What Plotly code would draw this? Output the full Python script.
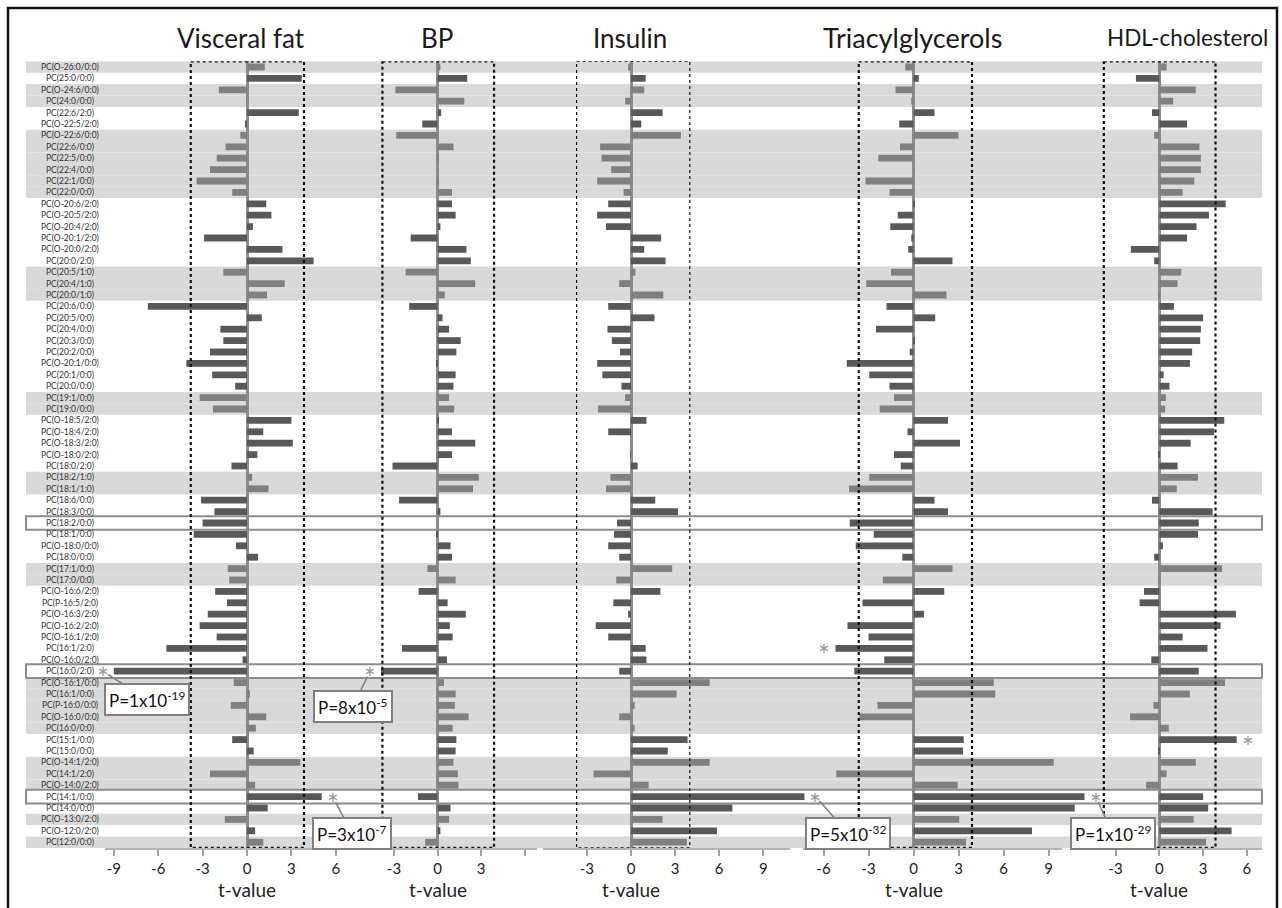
import plotly.graph_objects as go

W, H = 1282, 908

lipids = [
    "PC(O-26:0/0:0)", "PC(25:0/0:0)", "PC(O-24:6/0:0)", "PC(24:0/0:0)", "PC(22:6/2:0)",
    "PC(O-22:5/2:0)", "PC(O-22:6/0:0)", "PC(22:6/0:0)", "PC(22:5/0:0)", "PC(22:4/0:0)",
    "PC(22:1/0:0)", "PC(22:0/0:0)", "PC(O-20:6/2:0)", "PC(O-20:5/2:0)", "PC(O-20:4/2:0)",
    "PC(O-20:1/2:0)", "PC(O-20:0/2:0)", "PC(20:0/2:0)", "PC(20:5/1:0)", "PC(20:4/1:0)",
    "PC(20:0/1:0)", "PC(20:6/0:0)", "PC(20:5/0:0)", "PC(20:4/0:0)", "PC(20:3/0:0)",
    "PC(20:2/0:0)", "PC(O-20:1/0:0)", "PC(20:1/0:0)", "PC(20:0/0:0)", "PC(19:1/0:0)",
    "PC(19:0/0:0)", "PC(O-18:5/2:0)", "PC(O-18:4/2:0)", "PC(O-18:3/2:0)", "PC(O-18:0/2:0)",
    "PC(18:0/2:0)", "PC(18:2/1:0)", "PC(18:1/1:0)", "PC(18:6/0:0)", "PC(18:3/0:0)",
    "PC(18:2/0:0)", "PC(18:1/0:0)", "PC(O-18:0/0:0)", "PC(18:0/0:0)", "PC(17:1/0:0)",
    "PC(17:0/0:0)", "PC(O-16:6/2:0)", "PC(P-16:5/2:0)", "PC(O-16:3/2:0)", "PC(O-16:2/2:0)",
    "PC(O-16:1/2:0)", "PC(16:1/2:0)", "PC(O-16:0/2:0)", "PC(16:0/2:0)", "PC(O-16:1/0:0)",
    "PC(16:1/0:0)", "PC(P-16:0/0:0)", "PC(O-16:0/0:0)", "PC(16:0/0:0)", "PC(15:1/0:0)",
    "PC(15:0/0:0)", "PC(O-14:1/2:0)", "PC(14:1/2:0)", "PC(O-14:0/2:0)", "PC(14:1/0:0)",
    "PC(14:0/0:0)", "PC(O-13:0/2:0)", "PC(O-12:0/2:0)", "PC(12:0/0:0)",
]

visceral_fat = [
    1.2, 3.7, -1.9, -0.05, 3.5, -0.1, -0.45, -1.45, -2.05, -2.5,
    -3.4, -1.0, 1.3, 1.65, 0.4, -2.9, 2.4, 4.5, -1.6, 2.55,
    1.35, -6.7, 1.0, -1.8, -1.6, -2.5, -4.1, -2.35, -0.8, -3.2,
    -2.3, 3.0, 1.1, 3.1, 0.7, -1.05, 0.35, 1.45, -3.1, -2.2,
    -3.0, -3.6, -0.75, 0.75, -1.3, -1.2, -2.15, -1.35, -2.65, -3.2,
    -2.05, -5.45, -0.3, -9.0, -0.9, 0.2, -1.1, 1.3, 0.6, -1.0,
    0.45, 3.6, -2.5, 0.55, 5.05, 1.4, -1.5, 0.55, 1.1,
]

bp = [
    0.2, 2.05, -2.9, 1.85, 0.25, -1.05, -2.85, 1.1, 0.1, 0.0,
    0.1, 1.0, 1.0, 1.25, 0.2, -1.85, 2.0, 2.3, -2.2, 2.6,
    0.5, -1.95, 0.35, 0.8, 1.6, 1.3, -0.1, 1.25, 1.1, 0.8,
    1.15, 0.1, 1.0, 2.6, 1.0, -3.1, 2.85, 2.45, -2.65, 0.2,
    0.0, -0.05, 0.9, 1.0, -0.7, 1.25, -1.3, 0.7, 1.95, 0.85,
    1.05, -2.45, 0.65, -3.9, 0.45, 1.25, 1.2, 2.15, 1.05, 1.3,
    1.25, 1.1, 1.4, 1.45, -1.35, 0.9, 0.8, 0.2, -0.85,
]

insulin = [
    -0.2, 1.0, 0.9, -0.4, 2.15, 0.7, 3.4, -2.1, -2.0, -1.35,
    -2.3, -0.5, -1.55, -2.3, -1.7, 2.05, 0.9, 2.35, 0.3, -0.8,
    2.2, -1.55, 1.6, -1.6, -1.3, -0.75, -2.3, -1.95, -0.65, -0.4,
    -2.25, 1.05, -1.55, 0.0, -0.03, 0.45, -1.4, -1.7, 1.65, 3.2,
    -0.95, -1.15, -1.55, -0.8, 2.8, -1.0, 2.0, -1.2, -0.2, -2.4,
    -1.55, 1.0, 1.05, -0.8, 5.35, 3.1, 0.25, -0.8, 0.25, 3.85,
    2.5, 5.35, -2.55, 1.2, 11.8, 6.9, 2.15, 5.85, 3.8,
]

triacylglycerols = [
    -0.55, 0.35, -1.2, -0.15, 1.4, -0.95, 3.0, -0.9, -2.35, 0.0,
    -3.2, -1.6, 0.05, -1.05, -1.55, -0.15, -0.35, 2.6, -1.5, -3.15,
    2.2, -1.8, 1.45, -2.5, 0.1, -0.25, -4.45, -2.95, -1.6, -1.3,
    -2.25, 2.3, -0.4, 3.1, -1.3, -0.85, -2.95, -4.3, 1.4, 2.3,
    -4.25, -2.65, -3.85, -0.75, 2.6, -2.05, 2.05, -3.4, 0.7, -4.4,
    -3.0, -5.2, -1.95, -3.95, 5.35, 5.45, -2.4, -3.6, 0.0, 3.35,
    3.3, 9.35, -5.15, 2.95, 11.4, 10.75, 3.05, 7.9, 3.5,
]

hdl_cholesterol = [
    0.5, -1.6, 2.5, 0.95, -0.5, 1.9, -0.35, 2.75, 2.85, 2.85,
    2.4, 1.6, 4.55, 3.4, 2.55, 1.9, -1.95, -0.35, 1.5, 1.25,
    -0.05, 1.0, 3.0, 2.85, 2.8, 2.25, 2.1, 0.3, 0.7, 0.45,
    0.4, 4.45, 3.75, 2.15, -0.05, 1.25, 2.65, 1.2, -0.5, 3.65,
    2.7, 2.65, 0.25, -0.35, 4.3, -0.05, -1.05, -1.35, 5.25, 4.2,
    1.6, 3.3, -0.55, 2.7, 4.5, 2.1, -0.4, -2.0, 0.65, 5.3,
    -0.05, 2.5, 0.5, -0.9, 3.0, 3.35, 2.35, 4.95, 3.2,
]

panel_titles = ["Visceral fat", "BP", "Insulin", "Triacylglycerols", "HDL-cholesterol"]
panel_values = [visceral_fat, bp, insulin, triacylglycerols, hdl_cholesterol]

# rows (1-based) lying on a grey band
shaded_rows = [(1, 1), (3, 4), (7, 12), (19, 21), (30, 31), (37, 38),
               (45, 46), (55, 59), (62, 64), (67, 67), (69, 69)]
highlight_rows = ["PC(18:2/0:0)", "PC(16:0/2:0)", "PC(14:1/0:0)"]

threshold_lo = [-3.8, -3.8, -3.7, -3.65, -3.8]
threshold_hi = [3.85, 3.9, 4.0, 3.9, 3.85]

tick_values = [[-9, -6, -3, 0, 3, 6], [-3, 0, 3], [-3, 0, 3, 6, 9],
               [-6, -3, 0, 3, 6, 9], [-3, 0, 3, 6]]
tick_labels = [["-9", "-6", "-3", "0", "3", "6"], ["-3", "0", "3"],
               ["-3", "0", "3", "6", "9"], ["-6", "-3", "0", "3", "6", "9"],
               ["-3", "0", "3", "6"]]
unlabelled_ticks = [[], [6], [-6], [], []]

# significant hits: (panel index, lipid, P-value label or None)
significant = [
    (0, "PC(16:0/2:0)", "P=1x10<sup>-19</sup>"),
    (1, "PC(16:0/2:0)", "P=8x10<sup>-5</sup>"),
    (0, "PC(14:1/0:0)", "P=3x10<sup>-7</sup>"),
    (2, "PC(14:1/0:0)", "P=5x10<sup>-32</sup>"),
    (3, "PC(16:1/2:0)", None),
    (3, "PC(14:1/0:0)", "P=1x10<sup>-29</sup>"),
    (4, "PC(15:1/0:0)", None),
]

# ---------------- geometry / style ----------------
FONT = "Lato, 'Open Sans', 'DejaVu Sans', sans-serif"
zero_px = [247, 437.5, 631, 913.5, 1159.3]
px_per_unit = [14.8, 14.5, 14.7, 15.0, 14.6]
bar_dom = [(80, 362), (362, 540), (540, 830), (800, 1100), (1075, 1266)]
tick_dom = [(105, 347), (380, 537), (543, 790), (803, 1062), (1088, 1262)]
title_px = [241, 437, 630, 912, 1187]
title_size = [26, 26, 26, 27, 22.5]
y_top_px, row_h = 61.3, 11.4
n = len(lipids)
y_bot_px = y_top_px + n * row_h
band_left, band_right = 26, 1262
# P-box offsets (pixels, from the asterisk)
box_offsets = {(0, "PC(16:0/2:0)"): (44, 28), (1, "PC(16:0/2:0)"): (-17, 35),
               (0, "PC(14:1/0:0)"): (19, 37), (2, "PC(14:1/0:0)"): (33, 37),
               (3, "PC(14:1/0:0)"): (17, 37)}

shaded = set()
for a, b in shaded_rows:
    for r in range(a, b + 1):
        shaded.add(r - 1)

def px_range(k, dom):
    z, s = zero_px[k], px_per_unit[k]
    return [(dom[0] - z) / s, (dom[1] - z) / s]

fig = go.Figure()
layout = dict(
    width=W, height=H, margin=dict(l=0, r=0, t=0, b=0),
    paper_bgcolor="white", plot_bgcolor="rgba(0,0,0,0)",
    showlegend=False, barmode="overlay",
    font=dict(family=FONT, color="#222"),
)
layout["yaxis"] = dict(
    type="category", categoryorder="array", categoryarray=lipids,
    range=[n - 0.5, -0.5], domain=[1 - y_bot_px / H, 1 - y_top_px / H],
    showticklabels=False, showgrid=False, zeroline=False, showline=False,
    ticks="", anchor="x",
)

for k, vals in enumerate(panel_values):
    bx = "x" if k == 0 else f"x{k + 1}"
    tx = f"x{k + 6}"
    colors = ["#808080" if i in shaded else "#595959" for i in range(n)]
    fig.add_trace(go.Bar(
        x=vals, y=lipids, orientation="h", xaxis=bx, yaxis="y",
        marker=dict(color=colors, line=dict(width=0)), width=0.6,
        hoverinfo="x+y",
    ))
    layout["xaxis" if k == 0 else f"xaxis{k + 1}"] = dict(
        domain=[bar_dom[k][0] / W, bar_dom[k][1] / W], range=px_range(k, bar_dom[k]),
        anchor="y", showticklabels=False, ticks="", showgrid=False, showline=False,
        zeroline=True, zerolinecolor="#8c8c8c", zerolinewidth=2.5,
    )
    fig.add_trace(go.Scatter(
        x=[0], y=[lipids[0]], xaxis=tx, yaxis="y", mode="markers",
        marker=dict(opacity=0), hoverinfo="skip",
    ))
    ax_def = dict(
        domain=[tick_dom[k][0] / W, tick_dom[k][1] / W], range=px_range(k, tick_dom[k]),
        anchor="y", side="bottom", showgrid=False, zeroline=False,
        showline=True, linecolor="#b3b3b3", linewidth=2,
        ticks="outside", ticklen=6, tickwidth=1.5, tickcolor="#a0a0a0",
        tickmode="array", tickvals=tick_values[k], ticktext=tick_labels[k],
        tickfont=dict(size=15, family=FONT, color="#222"),
    )
    if unlabelled_ticks[k]:
        ax_def["minor"] = dict(tickmode="array", tickvals=unlabelled_ticks[k],
                               ticks="outside", ticklen=6, tickwidth=1.5,
                               tickcolor="#a0a0a0", showgrid=False)
    layout[f"xaxis{k + 6}"] = ax_def

shapes = []
for i in range(n):
    if i in shaded:
        shapes.append(dict(type="rect", xref="paper", yref="y",
                           x0=band_left / W, x1=band_right / W, y0=i - 0.5, y1=i + 0.5,
                           fillcolor="#d9d9d9", line=dict(width=0), layer="below"))
for lab in highlight_rows:
    i = lipids.index(lab)
    shapes.append(dict(type="rect", xref="paper", yref="y",
                       x0=band_left / W, x1=band_right / W, y0=i - 0.6, y1=i + 0.6,
                       fillcolor="white", line=dict(color="#8c8c8c", width=2), layer="below"))
for k in range(5):
    bx = "x" if k == 0 else f"x{k + 1}"
    shapes.append(dict(type="rect", xref=bx, yref="y",
                       x0=threshold_lo[k], x1=threshold_hi[k], y0=-0.5, y1=n - 0.5,
                       line=dict(color="#111", width=1.2 if k == 2 else 2.2, dash="dot"),
                       fillcolor="rgba(0,0,0,0)", layer="above"))
# outer frame
shapes.append(dict(type="rect", xref="paper", yref="paper",
                   x0=8 / W, x1=1277 / W, y0=-0.05, y1=1 - 8 / H,
                   line=dict(color="#111", width=2.5), fillcolor="rgba(0,0,0,0)"))

annotations = []
for lab in lipids:
    annotations.append(dict(x=70 / W, xref="paper", y=lab, yref="y", text=lab,
                            showarrow=False, xanchor="center", yanchor="middle",
                            font=dict(size=8.5, color="#333", family=FONT)))
for k, t in enumerate(panel_titles):
    annotations.append(dict(x=title_px[k] / W, xref="paper", y=1 - 38 / H, yref="paper",
                            text=t, showarrow=False, xanchor="center", yanchor="middle",
                            font=dict(size=title_size[k], color="#1a1a1a", family=FONT)))
    bx = "x" if k == 0 else f"x{k + 1}"
    annotations.append(dict(x=0, xref=bx, y=1 - 889 / H, yref="paper", text="t-value",
                            showarrow=False, xanchor="center", yanchor="middle",
                            font=dict(size=19, color="#222", family=FONT)))

for k, lab, ptxt in significant:
    bx = "x" if k == 0 else f"x{k + 1}"
    v = panel_values[k][lipids.index(lab)]
    sx = v + (0.75 if v > 0 else -0.75)
    annotations.append(dict(x=sx, xref=bx, y=lab, yref="y", text="*", showarrow=False,
                            xanchor="center", yanchor="middle", yshift=-7,
                            font=dict(size=28, color="#999999", family=FONT)))
    if ptxt:
        ax, ay = box_offsets[(k, lab)]
        annotations.append(dict(x=sx, xref=bx, y=lab, yref="y", text=ptxt,
                                showarrow=True, arrowhead=0, arrowwidth=1.5,
                                arrowcolor="#808080", ax=ax, ay=ay, standoff=6,
                                bgcolor="white", bordercolor="#808080", borderwidth=2,
                                borderpad=3, font=dict(size=17, color="#111", family=FONT)))

layout["shapes"] = shapes
layout["annotations"] = annotations
fig.update_layout(**layout)

fig.write_html("out.html", config={"displayModeBar": False},
               post_script="document.body.style.margin='0';document.body.style.overflow='hidden';")
